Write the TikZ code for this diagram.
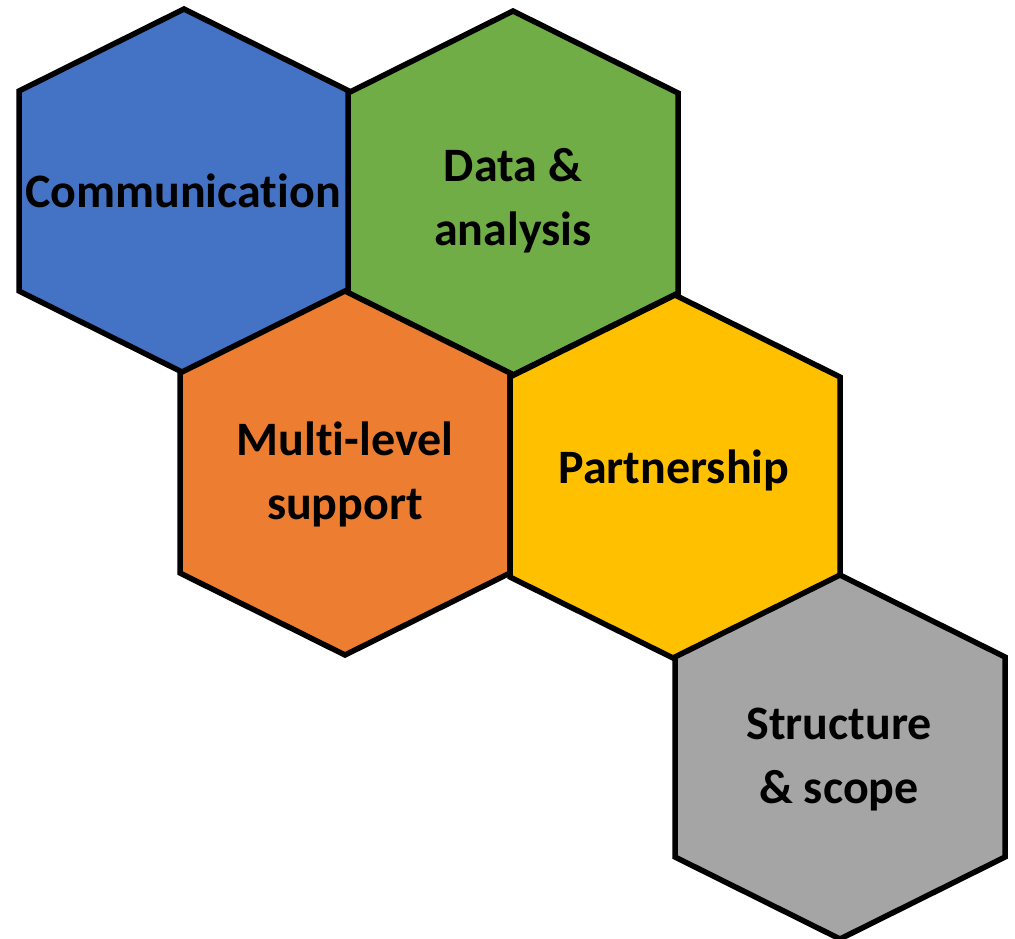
\documentclass[tikz,border=0pt]{standalone}
\usepackage{fontspec}
\setmainfont{Carlito}[Ligatures=NoCommon]
\usepackage{tikz}
\usetikzlibrary{calc}

\definecolor{hexblue}{HTML}{4472C4}
\definecolor{hexgreen}{HTML}{70AD47}
\definecolor{hexorange}{HTML}{ED7D31}
\definecolor{hexyellow}{HTML}{FFC000}
\definecolor{hexgray}{HTML}{A5A5A5}

% hexagone a pointe en haut : #1 centre, #2 couleur
\newcommand{\hexcell}[2]{%
  \filldraw[fill=#2, draw=black, line width=5.5pt]
    ($#1+(0,-182)$) -- ($#1+(165,-100)$) -- ($#1+(165,100)$) --
    ($#1+(0,182)$) -- ($#1+(-165,100)$) -- ($#1+(-165,-100)$) -- cycle;}

\begin{document}
\begin{tikzpicture}[x=1pt, y=-1pt,
    hexlabel/.style={font=\fontsize{48}{64}\selectfont\bfseries, align=center, text=black}]
  \useasboundingbox (0,0) rectangle (1015,938);

  %Hexagones
  \hexcell{(184,191)}{hexblue}
  \hexcell{(513,193)}{hexgreen}
  \hexcell{(345,473)}{hexorange}
  \hexcell{(675,477)}{hexyellow}
  \hexcell{(840,757)}{hexgray}

  %Textes
  \node[hexlabel] (comm) at (183,191) {Communication};
  \node[hexlabel] (data) at (513,201) {Data \&\\analysis};
  \node[hexlabel] (multi) at (345,474) {Multi-level\\support};
  \node[hexlabel] (part) at (674,470) {Partnership};
  \node[hexlabel] (struct) at (839,760) {Structure\\\& scope};
\end{tikzpicture}
\end{document}
